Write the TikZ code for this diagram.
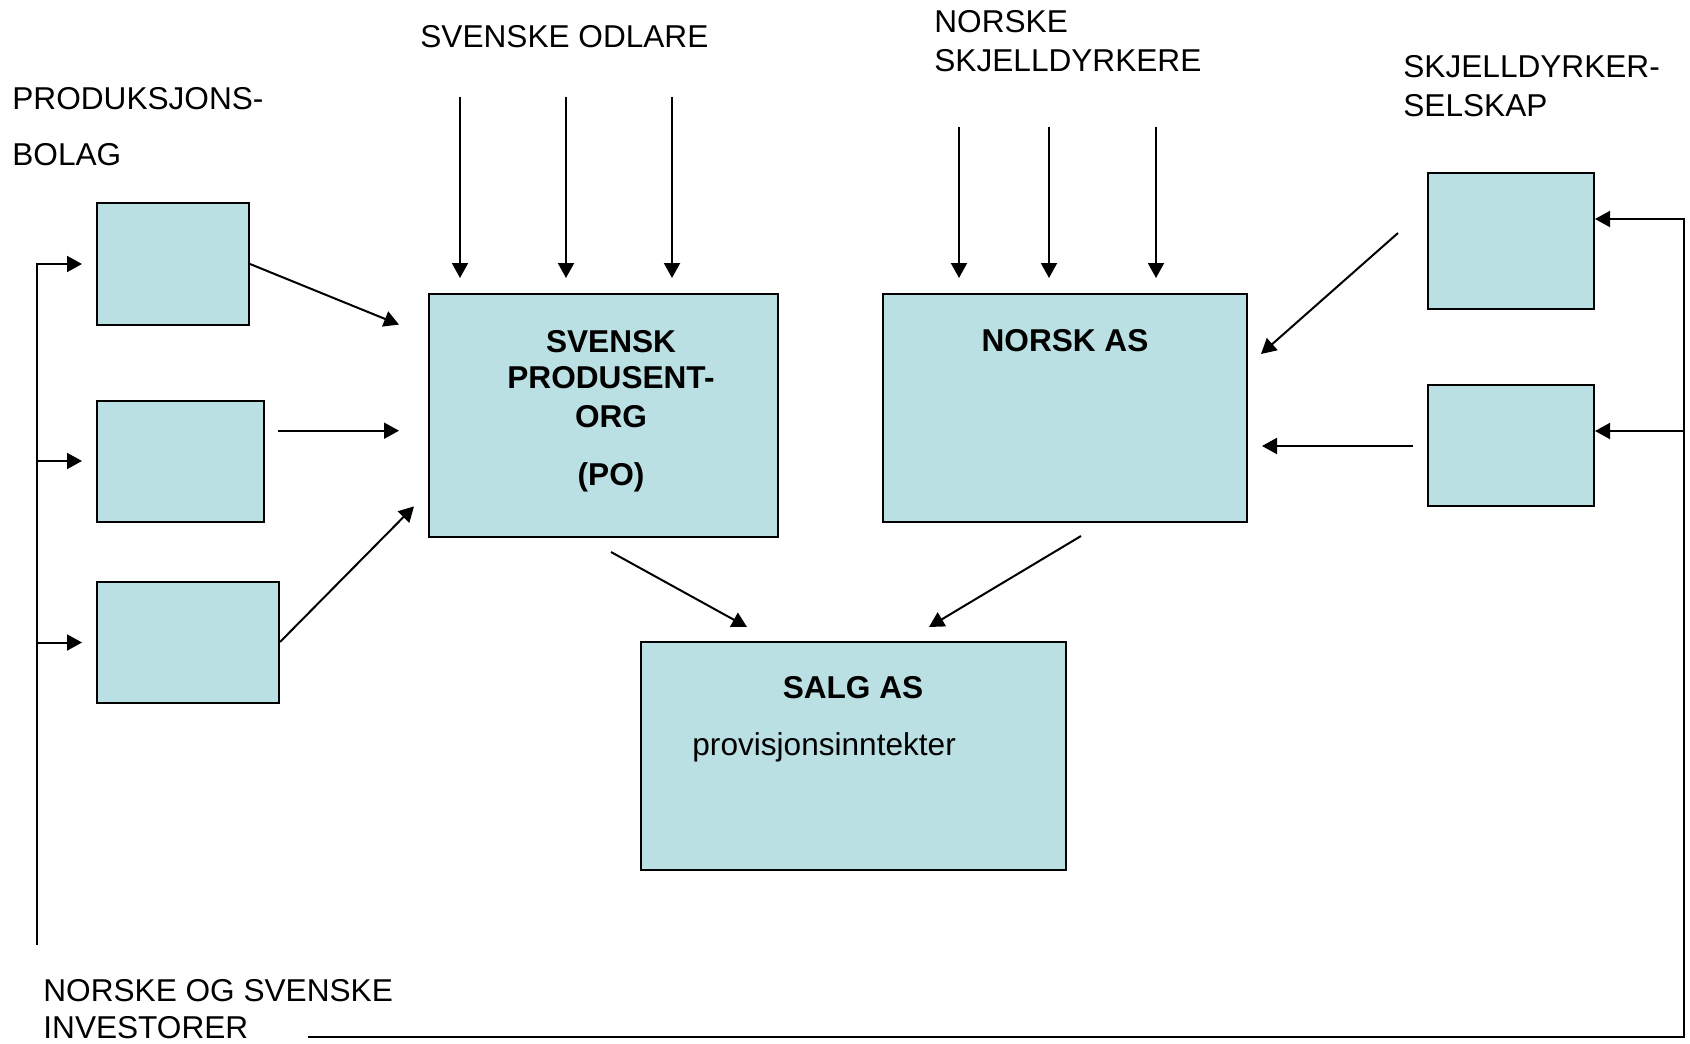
\documentclass[tikz,border=0pt]{standalone}
\usepackage{fontspec}
\setmainfont{Liberation Sans}
\usetikzlibrary{arrows.meta}
\definecolor{boxfill}{RGB}{187,224,227}
\tikzset{
  box/.style={draw=black, line width=1pt, fill=boxfill, rectangle, inner sep=0pt},
  lbl/.style={anchor=base west, inner sep=0pt, font=\fontsize{15.8pt}{19pt}\selectfont},
  blbl/.style={anchor=base, inner sep=0pt, font=\fontsize{15.8pt}{19pt}\selectfont\bfseries},
  arr/.style={line width=1pt, -{Triangle[length=7.5pt,width=8pt]}},
  ln/.style={line width=1pt}
}
\begin{document}
\begin{tikzpicture}[x=0.5pt,y=-0.5pt]
\useasboundingbox (0,0) rectangle (1690,1043);
% boxes
\node[box, minimum width=76pt, minimum height=60.5pt] (p1) at (173,264) {};
\node[box, minimum width=83.5pt, minimum height=60.5pt] (p2) at (180.5,461) {};
\node[box, minimum width=91pt, minimum height=60.5pt] (p3) at (188,642) {};
\node[box, minimum width=174.5pt, minimum height=121.5pt] (po) at (603.5,415.5) {};
\node[box, minimum width=182pt, minimum height=114pt] (no) at (1065,408) {};
\node[box, minimum width=83pt, minimum height=68pt] (r1) at (1511,241) {};
\node[box, minimum width=83pt, minimum height=60.5pt] (r2) at (1511,445.5) {};
\node[box, minimum width=212.5pt, minimum height=114pt] (salg) at (853.5,756) {};
% box texts
\node[blbl] (po1) at (611,352) {SVENSK};
\node[blbl] (po2) at (611,388) {PRODUSENT-};
\node[blbl] (po3) at (611,427) {ORG};
\node[blbl] (po4) at (611,485) {(PO)};
\node[blbl] (no1) at (1065,351) {NORSK AS};
\node[blbl] (sa1) at (853,698) {SALG AS};
\node[lbl] (sa2) at (692,755) {provisjonsinntekter};
% outside labels
\node[lbl] (sv) at (420,48) {SVENSKE ODLARE};
\node[lbl] (ns1) at (934,33) {NORSKE};
\node[lbl] (ns2) at (934,72) {SKJELLDYRKERE};
\node[lbl] (pb1) at (12,110) {PRODUKSJONS-};
\node[lbl] (pb2) at (12,166) {BOLAG};
\node[lbl] (sk1) at (1403,78) {SKJELLDYRKER-};
\node[lbl] (sk2) at (1403,117) {SELSKAP};
\node[lbl] (in1) at (43,1001) {NORSKE OG SVENSKE};
\node[lbl] (in2) at (43,1038) {INVESTORER};
% coordinates for free ends
\coordinate (sa) at (460,97);  \coordinate (sat) at (460,278);
\coordinate (sb) at (566,97);  \coordinate (sbt) at (566,278);
\coordinate (sc) at (672,97);  \coordinate (sct) at (672,278);
\coordinate (na) at (959,127); \coordinate (nat) at (959,278);
\coordinate (nb) at (1049,127);\coordinate (nbt) at (1049,278);
\coordinate (nc) at (1156,127);\coordinate (nct) at (1156,278);
\coordinate (lbot) at (37,945);
\coordinate (l1) at (82,264);
\coordinate (l2a) at (37,461); \coordinate (l2) at (82,461);
\coordinate (l3a) at (37,642.5); \coordinate (l3) at (82,642.5);
\coordinate (p1t) at (399,324.6);
\coordinate (p2s) at (278,430.7); \coordinate (p2t) at (399,430.7);
\coordinate (p3t) at (414,506.4);
\coordinate (pos) at (611,552); \coordinate (post) at (747,627);
\coordinate (nos) at (1081,536); \coordinate (nost) at (929,627);
\coordinate (r1s) at (1398,233); \coordinate (r1t) at (1261,354);
\coordinate (r2s) at (1413,446); \coordinate (r2t) at (1262,446);
\coordinate (bst) at (308,1037);
\coordinate (rtop) at (1684,219); \coordinate (r1in) at (1595,219);
\coordinate (rmid) at (1684,431); \coordinate (r2in) at (1595,431);
% top arrows
\draw[arr] (sa) -- (sat);
\draw[arr] (sb) -- (sbt);
\draw[arr] (sc) -- (sct);
\draw[arr] (na) -- (nat);
\draw[arr] (nb) -- (nbt);
\draw[arr] (nc) -- (nct);
% left spine
\draw[arr] (lbot) |- (l1);
\draw[arr] (l2a) -- (l2);
\draw[arr] (l3a) -- (l3);
% production boxes to PO
\draw[arr] (p1.east) -- (p1t);
\draw[arr] (p2s) -- (p2t);
\draw[arr] (p3.east) -- (p3t);
% to SALG
\draw[arr] (pos) -- (post);
\draw[arr] (nos) -- (nost);
% right side into NORSK AS
\draw[arr] (r1s) -- (r1t);
\draw[arr] (r2s) -- (r2t);
% investor line on the right
\draw[arr] (bst) -| (rtop) -- (r1in);
\draw[arr] (rmid) -- (r2in);
\end{tikzpicture}
\end{document}
